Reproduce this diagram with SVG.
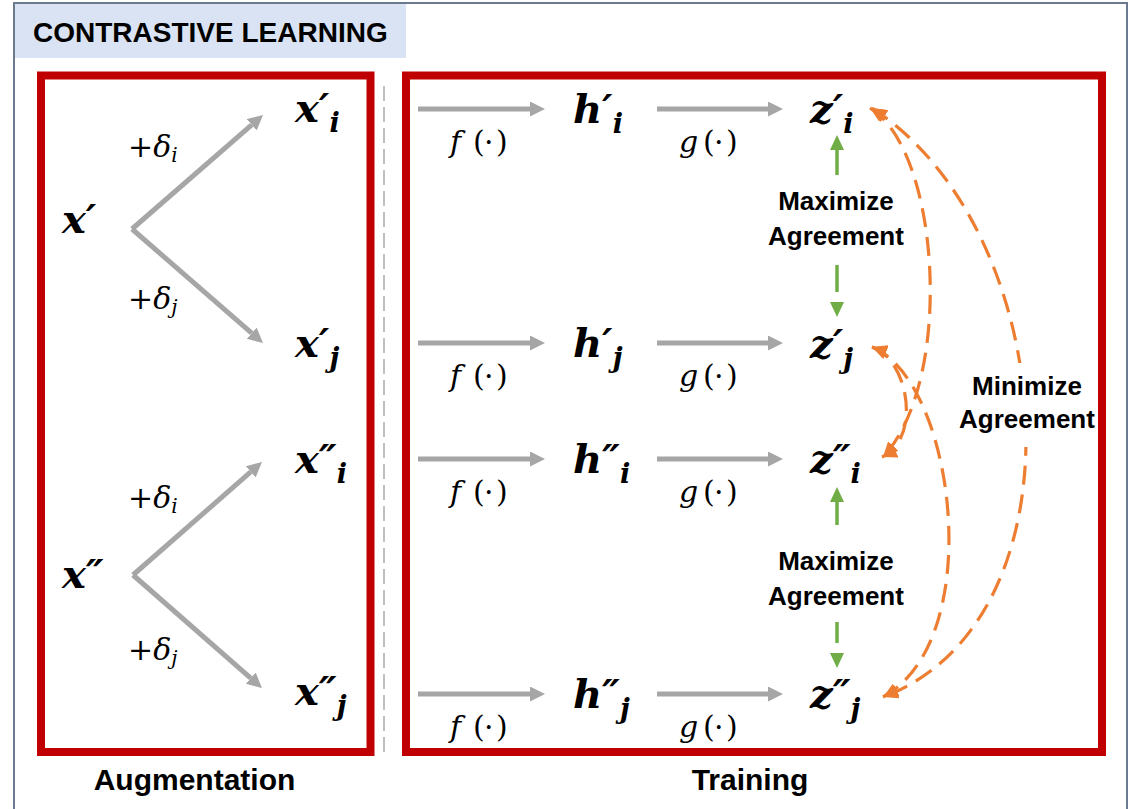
<svg xmlns="http://www.w3.org/2000/svg" width="1130" height="809" viewBox="0 0 1130 809">
<defs>
<style>
.mb{font-family:"DejaVu Serif","Liberation Serif",serif;font-weight:bold;font-style:italic;font-size:40px;fill:#000}
.sub{font-size:27px}
.mr{font-family:"DejaVu Serif","Liberation Serif",serif;font-size:30px;fill:#000}
.it{font-style:italic}
.sm{font-size:20px}
.lbl{font-family:"Liberation Sans",Arial,sans-serif;font-weight:bold;fill:#000}
.box{fill:none;stroke:#c00000;stroke-width:8}
.ga{stroke:#a6a6a6;stroke-width:5;fill:none;marker-end:url(#gh)}
.oa{stroke:#ed7d31;stroke-width:3.2;fill:none;stroke-dasharray:19 10;marker-start:url(#oh);marker-end:url(#oh)}
.gr{stroke:#70ad47;stroke-width:3.5}
.grh{fill:#70ad47}
</style>
<marker id="gh" markerUnits="userSpaceOnUse" markerWidth="16" markerHeight="16" refX="0" refY="7.5" orient="auto"><path d="M0,0 L15,7.5 L0,15 z" fill="#a6a6a6"/></marker>
<marker id="oh" markerUnits="userSpaceOnUse" markerWidth="16" markerHeight="14" refX="15" refY="7" orient="auto-start-reverse"><path d="M0,0 L15,7 L0,14 z" fill="#ed7d31"/></marker>
</defs>
<rect x="0" y="0" width="1130" height="809" fill="#fff"/>
<g id="frame">
<rect x="14" y="3" width="1113" height="830" fill="none" stroke="#6b7a8f" stroke-width="2"/>
<rect x="15" y="4" width="391" height="54" fill="#dae3f3"/>
<text x="33" y="42" class="lbl" font-size="28">CONTRASTIVE LEARNING</text>
</g>
<g id="augmentation-box">
<rect class="box" x="41" y="75.5" width="329.5" height="676.5"/>
<text x="194.5" y="790" class="lbl" font-size="30" text-anchor="middle">Augmentation</text>
</g>
<g id="training-box">
<rect class="box" x="406" y="75.5" width="696" height="676.5"/>
<text x="750" y="790" class="lbl" font-size="30" text-anchor="middle">Training</text>
</g>
<line id="separator" x1="384" y1="86" x2="384" y2="752" stroke="#bfbfbf" stroke-width="2" stroke-dasharray="15 6"/>

<g id="x1"><text x="62" y="233" class="mb">x′</text></g>
<g id="x1i"><text x="295" y="122" class="mb">x′<tspan class="sub" dy="10">i</tspan></text></g>
<g id="x1j"><text x="295" y="357" class="mb">x′<tspan class="sub" dy="10">j</tspan></text></g>
<g id="x2"><text x="62" y="588" class="mb">x″</text></g>
<g id="x2i"><text x="295" y="473" class="mb">x″<tspan class="sub" dy="10">i</tspan></text></g>
<g id="x2j"><text x="295" y="705" class="mb">x″<tspan class="sub" dy="10">j</tspan></text></g>

<g id="h1i"><text x="573" y="123" class="mb">h′<tspan class="sub" dy="10">i</tspan></text></g>
<g id="h1j"><text x="573" y="357" class="mb">h′<tspan class="sub" dy="10">j</tspan></text></g>
<g id="h2i"><text x="573" y="473" class="mb">h″<tspan class="sub" dy="10">i</tspan></text></g>
<g id="h2j"><text x="573" y="708" class="mb">h″<tspan class="sub" dy="10">j</tspan></text></g>

<g id="z1i"><text x="810" y="123" class="mb">z′<tspan class="sub" dy="10">i</tspan></text></g>
<g id="z1j"><text x="810" y="358" class="mb">z′<tspan class="sub" dy="10">j</tspan></text></g>
<g id="z2i"><text x="810" y="473" class="mb">z″<tspan class="sub" dy="10">i</tspan></text></g>
<g id="z2j"><text x="810" y="708" class="mb">z″<tspan class="sub" dy="10">j</tspan></text></g>

<g id="connectors">
<line class="ga" x1="132" y1="229" x2="251.7" y2="124.8"/>
<line class="ga" x1="132" y1="229" x2="251.7" y2="333.2"/>
<line class="ga" x1="133" y1="575" x2="250.7" y2="471.9"/>
<line class="ga" x1="133" y1="575" x2="250.7" y2="678.1"/>
<text x="128" y="157" class="mr">+<tspan class="it">δ</tspan><tspan class="it sm" dy="5">i</tspan></text>
<text x="128" y="309" class="mr">+<tspan class="it">δ</tspan><tspan class="it sm" dy="5">j</tspan></text>
<text x="128" y="508" class="mr">+<tspan class="it">δ</tspan><tspan class="it sm" dy="5">i</tspan></text>
<text x="128" y="660" class="mr">+<tspan class="it">δ</tspan><tspan class="it sm" dy="5">j</tspan></text>

<line class="ga" x1="418" y1="109" x2="530" y2="109"/>
<line class="ga" x1="657" y1="109" x2="768" y2="109"/>
<line class="ga" x1="418" y1="343" x2="530" y2="343"/>
<line class="ga" x1="657" y1="343" x2="768" y2="343"/>
<line class="ga" x1="418" y1="459" x2="530" y2="459"/>
<line class="ga" x1="657" y1="459" x2="768" y2="459"/>
<line class="ga" x1="418" y1="694" x2="530" y2="694"/>
<line class="ga" x1="657" y1="694" x2="768" y2="694"/>
<text x="450 473 484 496" y="152" class="mr"><tspan class="it">f</tspan>(·)</text>
<text x="679 703 714 726" y="152" class="mr"><tspan class="it">g</tspan>(·)</text>
<text x="450 473 484 496" y="386" class="mr"><tspan class="it">f</tspan>(·)</text>
<text x="679 703 714 726" y="386" class="mr"><tspan class="it">g</tspan>(·)</text>
<text x="450 473 484 496" y="502" class="mr"><tspan class="it">f</tspan>(·)</text>
<text x="679 703 714 726" y="502" class="mr"><tspan class="it">g</tspan>(·)</text>
<text x="450 473 484 496" y="737" class="mr"><tspan class="it">f</tspan>(·)</text>
<text x="679 703 714 726" y="737" class="mr"><tspan class="it">g</tspan>(·)</text>

<line class="gr" x1="837" y1="149" x2="837" y2="175"/>
<polygon class="grh" points="837,135 830,150 844,150"/>
<line class="gr" x1="837" y1="265" x2="837" y2="292"/>
<polygon class="grh" points="837,317 830,302 844,302"/>
<text x="836" y="210" class="lbl" font-size="26" text-anchor="middle">Maximize</text>
<text x="836" y="245" class="lbl" font-size="26" text-anchor="middle">Agreement</text>

<line class="gr" x1="837" y1="501" x2="837" y2="525"/>
<polygon class="grh" points="837,487 830,502 844,502"/>
<line class="gr" x1="837" y1="622" x2="837" y2="643"/>
<polygon class="grh" points="837,668 830,653 844,653"/>
<text x="836" y="570" class="lbl" font-size="26" text-anchor="middle">Maximize</text>
<text x="836" y="605" class="lbl" font-size="26" text-anchor="middle">Agreement</text>

<path class="oa" d="M870,108 C940,150 955,380 883,457"/>
<path class="oa" d="M872,108 C1060,230 1090,620 883,697"/>
<path class="oa" d="M872,347 C955,380 988,640 883,697"/>
<path class="oa" d="M872,347 C910,360 921,440 882,457"/>
<rect x="957" y="363" width="139" height="84" fill="#fff"/>
<text x="1027" y="395" class="lbl" font-size="26" text-anchor="middle">Minimize</text>
<text x="1027" y="428" class="lbl" font-size="26" text-anchor="middle">Agreement</text>
</g>
</svg>
